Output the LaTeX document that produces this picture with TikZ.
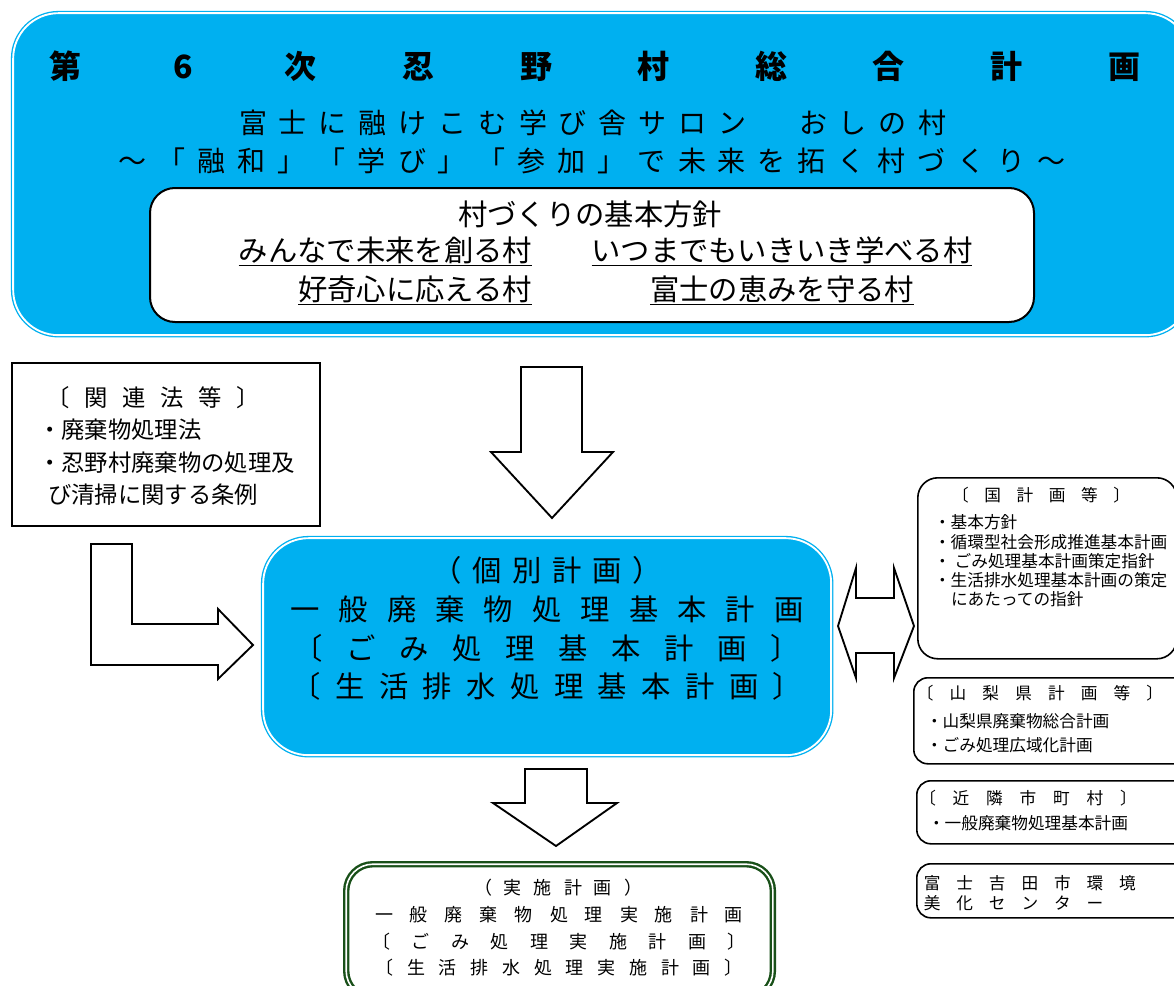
\documentclass[tikz,border=0pt]{standalone}
\usepackage{fontspec}
\setmainfont{Noto Sans CJK JP}
\definecolor{cblue}{HTML}{00B0F0}
\definecolor{cgreen}{RGB}{25,80,25}
\newlength\pitchlen
\def\spcloop#1{\ifx#1\relax\else\makebox[\pitchlen]{#1}\expandafter\spcloop\fi}
\newcommand\spc[2]{\setlength\pitchlen{#1}\spcloop#2\relax}
\newcommand\fs[1]{\fontsize{#1}{1.2\dimexpr#1\relax}\selectfont}
\tikzset{
  bluebox/.style={draw=cblue, double=white, double distance=1.4pt, line width=1pt, fill=cblue, rounded corners=34pt},
  whitebox/.style={draw=black, line width=1.5pt, fill=white, rounded corners=18.75pt},
  plainbox/.style={draw=black, line width=1.5pt, fill=white},
  greenbox/.style={draw=cgreen, double=white, double distance=1.2pt, line width=1.8pt, fill=white, rounded corners=20pt},
  sidebox/.style={draw=black, line width=1.2pt, fill=white},
  blockarrow/.style={draw=black, line width=1.4pt, fill=white, line join=miter},
  txt/.style={inner sep=0pt, outer sep=0pt}
}
\begin{document}
\begin{tikzpicture}[x=0.75pt,y=-0.75pt]
\path[use as bounding box] (0,0) rectangle (1174,985);
\clip (0,0) rectangle (1174,985);
% ---------- top box ----------
\node[bluebox, anchor=north west, minimum width=883pt, minimum height=241.5pt] (top) at (12.5,12.5) {};
\node[txt, font=\fs{24pt}\bfseries] (title) at (595,66) {\spc{88.2pt}{第6次忍野村総合計画}};
\node[txt, font=\fs{21pt}] (sub1) at (593,123) {\spc{30pt}{富士に融けこむ学び舎サロン　おしの村}};
\node[txt, font=\fs{21pt}] (sub2) at (592,161) {\spc{30pt}{～「融和」「学び」「参加」で未来を拓く村づくり～}};
\node[whitebox, anchor=north west, minimum width=663pt, minimum height=100.5pt] (policy) at (149,187) {};
\node[txt, font=\fs{22pt}] (ph) at (590,214) {村づくりの基本方針};
\node[txt, font=\fs{22pt}, anchor=base east] (p1) at (532,261) {\underline{みんなで未来を創る村}};
\node[txt, font=\fs{22pt}, anchor=base] (p2) at (782,261) {\underline{いつまでもいきいき学べる村}};
\node[txt, font=\fs{22pt}, anchor=base east] (p3) at (532,300) {\underline{好奇心に応える村}};
\node[txt, font=\fs{22pt}, anchor=base] (p4) at (782,300) {\underline{富士の恵みを守る村}};
% ---------- related laws ----------
\node[plainbox, anchor=north west, minimum width=231pt, minimum height=122.25pt] (law) at (11,362) {};
\node[txt, font=\fs{17.5pt}] (lawh) at (153,398) {\spc{28.5pt}{〔関連法等〕}};
\node[txt, font=\fs{17.5pt}, anchor=west] (law1) at (38,430) {・廃棄物処理法};
\node[txt, font=\fs{17.5pt}, anchor=west] (law2) at (38,463) {・忍野村廃棄物の処理及};
\node[txt, font=\fs{17.5pt}, anchor=west] (law3) at (48,495) {び清掃に関する条例};
% ---------- arrows ----------
\draw[blockarrow] (521,367) -- (582,367) -- (582,452) -- (613,452) -- (552,518) -- (491,452) -- (521,452) -- cycle;
\draw[blockarrow] (91,544) -- (132,544) -- (132,624) -- (218,624) -- (218,609) -- (253,645) -- (218,679) -- (218,665) -- (91,665) -- cycle;
\draw[blockarrow] (838,626) -- (856,568) -- (856,598) -- (894,598) -- (894,568) -- (914,626) -- (894,678) -- (894,653) -- (856,653) -- (856,678) -- cycle;
\draw[blockarrow] (525,769) -- (587,769) -- (587,803) -- (617,803) -- (556,846) -- (493,803) -- (525,803) -- cycle;
% ---------- center box ----------
\node[bluebox, anchor=north west, minimum width=426pt, minimum height=162.75pt] (mid) at (262.5,537.5) {};
\node[txt, font=\fs{22pt}] (m1) at (547,570) {\spc{30pt}{（個別計画）}};
\node[txt, font=\fs{22pt}] (m2) at (547,609) {\spc{36.3pt}{一般廃棄物処理基本計画}};
\node[txt, font=\fs{22pt}] (m3) at (547,648) {\spc{39.75pt}{〔ごみ処理基本計画〕}};
\node[txt, font=\fs{22pt}] (m4) at (547,686) {\spc{32.8pt}{〔生活排水処理基本計画〕}};
% ---------- bottom box ----------
\node[greenbox, anchor=north west, minimum width=320pt, minimum height=100pt] (impl) at (345,863) {};
\node[txt, font=\fs{13.5pt}] (b1) at (558,888) {\spc{22.5pt}{（実施計画）}};
\node[txt, font=\fs{13.5pt}] (b2) at (559,915) {\spc{26.25pt}{一般廃棄物処理実施計画}};
\node[txt, font=\fs{13.5pt}] (b3) at (559,942) {\spc{29.6pt}{〔ごみ処理実施計画〕}};
\node[txt, font=\fs{13.5pt}] (b4) at (559,968) {\spc{23.8pt}{〔生活排水処理実施計画〕}};
% ---------- right boxes ----------
\node[sidebox, rounded corners=15pt, anchor=north west, minimum width=194.25pt, minimum height=135.75pt] (nat) at (917,477) {};
\node[txt, font=\fs{12.5pt}] (nath) at (1041,495) {\spc{24.2pt}{〔国計画等〕}};
\node[txt, font=\fs{12.5pt}, anchor=west] (nat1) at (934,522) {・基本方針};
\node[txt, font=\fs{12.5pt}, anchor=west] (nat2) at (934,542) {・循環型社会形成推進基本計画};
\node[txt, font=\fs{12.5pt}, anchor=west] (nat3) at (934,561) {・\hspace{3pt}ごみ処理基本計画策定指針};
\node[txt, font=\fs{12.5pt}, anchor=west] (nat4) at (934,580) {・生活排水処理基本計画の策定};
\node[txt, font=\fs{12.5pt}, anchor=west] (nat5) at (951,599) {にあたっての指針};
\node[sidebox, rounded corners=10.5pt, anchor=north west, minimum width=250pt, minimum height=64.5pt] (pref) at (913,677) {};
\node[txt, font=\fs{12.5pt}] (prefh) at (1040,693) {\spc{24.6pt}{〔山梨県計画等〕}};
\node[txt, font=\fs{12.5pt}, anchor=west] (pref1) at (926,721) {・山梨県廃棄物総合計画};
\node[txt, font=\fs{12.5pt}, anchor=west] (pref2) at (926,745) {・ごみ処理広域化計画};
\node[sidebox, rounded corners=10.5pt, anchor=north west, minimum width=250pt, minimum height=47.25pt] (nb) at (916,780) {};
\node[txt, font=\fs{12.5pt}] (nbh) at (1028,798) {\spc{25.1pt}{〔近隣市町村〕}};
\node[txt, font=\fs{12.5pt}, anchor=west] (nb1) at (928,823) {・一般廃棄物処理基本計画};
\node[sidebox, rounded corners=10.5pt, anchor=north west, minimum width=250pt, minimum height=40.5pt] (fy) at (916,863) {};
\node[txt, font=\fs{12.5pt}, anchor=west] (fy1) at (916,883) {\spc{24.4pt}{富士吉田市環境}};
\node[txt, font=\fs{12.5pt}, anchor=west] (fy2) at (916,903) {\spc{24.4pt}{美化センター}};
\end{tikzpicture}
\end{document}
